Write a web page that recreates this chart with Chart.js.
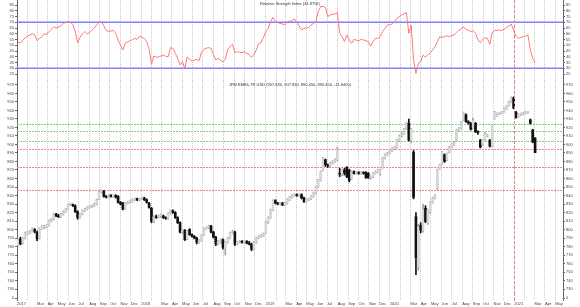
<!DOCTYPE html>
<html>
<head>
<meta charset="utf-8">
<script src="https://cdn.jsdelivr.net/npm/chart.js@4.4.1/dist/chart.umd.min.js"></script>
<style>
  html, body { margin: 0; padding: 0; background: #fff; }
  #wrap { position: relative; width: 580px; height: 307px; overflow: hidden; }
  canvas { position: absolute; left: 0; }
</style>
</head>
<body>
<div id="wrap">
  <canvas id="rsi" width="580" height="81" style="top:0px"></canvas>
  <canvas id="price" width="580" height="212" style="top:81px"></canvas>
  <canvas id="vol" width="580" height="8" style="top:293px"></canvas>
  <canvas id="dates" width="563" height="7" style="top:300px"></canvas>
</div>
<script>
// weekly candles, first one is the week of 2 Jan 2017 (plotted mid-week)
const X_START = '2017-01-01';
const X_END = '2021-05-24';
const FIRST_WEEK = '2017-01-04';
const MARKER_DATE = '2020-12-31';

const monthNames = ['Jan', 'Feb', 'Mar', 'Apr', 'May', 'Jun', 'Jul', 'Aug', 'Sep', 'Oct', 'Nov', 'Dec'];
const years = [2017, 2018, 2019, 2020, 2021];

const rsiTicks = [25, 30, 35, 40, 45, 50, 55, 60, 65, 70, 75, 80, 85];
const priceTicks = [730, 740, 750, 760, 770, 780, 790, 800, 810, 820, 830, 840, 850, 860, 870,
  880, 890, 900, 910, 920, 930, 940, 950, 960, 970];
const rsiBands = [70, 30];
const greenLevels = [924.5, 915.5, 904.5];
const redLevels = [894.5, 873, 847];

// [open, high, low, close]
const ohlc2017 = [
  [782,789,780,788],[789,791,782,783],[784,791,783,790],[790,797,789,796],[795,798,794,797],
  [796,799,795,798],[798,802,797,801],[800,801,796,798],[797,798,787,789],[790,802,789,801],
  [801,805,800,804],[803,805,801,803],[803,806,802,805],[805,811,804,810],[810,813,809,812],
  [812,819,811,818],[818,819,815,816],[816,818,814,815],[815,819,814,818],[818,822,817,821],
  [821,825,820,824],[824,830,823,829],[829,831,828,830],[829,830,827,828],[828,829,820,821],
  [821,822,812,814],[814,819,813,818],[818,823,817,822],[822,825,821,824],[824,827,823,826],
  [826,828,825,827],[827,829,826,828],[828,831,827,830],[830,836,829,835],[836,845,835,844],
  [844,847,843,846],[845,846,838,839],[839,840,837,838],[838,841,837,840],[840,841,838,839],
  [839,841,838,840],[840,841,837,838],[839,840,831,832],[832,833,829,830],[831,832,823,824],
  [825,832,824,831],[831,833,830,832],[832,834,831,833],[833,836,832,835],[835,837,834,836],
  [836,837,834,835],[835,837,834,836]
];
const ohlc2018 = [
  [836,838,835,837],[837,838,834,835],[835,836,831,832],[831,832,825,826],[825,826,808,810],
  [810,816,808,815],[815,817,813,814],[815,817,814,816],[816,818,814,816],[816,817,813,814],
  [814,815,812,813],[813,820,812,819],[819,823,818,822],[822,823,819,820],[820,821,813,814],
  [814,815,807,808],[808,809,796,797],[797,800,795,799],[799,800,787,788],[789,799,788,798],
  [800,801,793,794],[794,795,791,792],[792,793,789,790],[790,791,783,785],[785,788,784,787],
  [787,794,786,793],[794,802,793,801],[801,803,800,802],[802,805,801,804],[804,805,796,797],
  [797,798,790,791],[791,792,781,783],[783,787,782,786],[786,789,784,788],[788,789,777,779],
  [778,786,770,785],[785,791,784,790],[790,797,789,796],[796,799,795,797],[797,798,781,783],
  [783,786,782,785],[785,787,784,786],[786,787,784,785],[785,787,784,786],[786,787,783,784],
  [784,786,782,783],[783,784,775,777],[777,786,776,785],[785,791,784,790],[790,793,789,792],
  [792,794,791,793],[793,796,792,795]
];
const ohlc2019 = [
  [796,810,795,808],[808,815,807,814],[814,824,813,823],[823,835,822,834],[834,835,830,831],
  [831,832,829,830],[830,832,829,831],[831,832,828,829],[829,832,828,831],[831,836,830,835],
  [835,839,834,838],[838,841,837,840],[840,842,839,841],[841,842,839,840],[840,842,839,841],
  [841,842,836,837],[837,838,832,833],[833,836,832,835],[835,837,834,836],[836,840,835,839],
  [839,844,838,843],[843,851,842,850],[850,859,849,858],[858,869,857,868],[870,885,869,884],
  [882,883,874,876],[876,877,873,875],[875,879,874,878],[878,881,877,880],[880,883,879,882],
  [882,897,881,894],[866,872,862,865],[865,871,863,870],[870,872,864,866],[873,874,861,862],
  [870,871,856,858],[860,869,859,868],[868,869,865,866],[866,868,865,867],[867,868,865,866],
  [866,868,865,867],[867,868,865,866],[867,868,860,861],[866,867,860,861],[861,863,859,862],
  [862,867,861,866],[866,869,865,868],[868,871,867,870],[866,871,864,870],[873,885,872,884],
  [884,889,883,888],[888,891,887,890]
];
const ohlc2020 = [
  [890,894,889,893],[893,896,892,895],[895,898,894,897],[897,906,896,905],[905,911,904,910],
  [910,914,909,913],[913,919,912,918],[919,926,918,925],[925,930,904,905],[905,919,902,918],
  [891,893,836,838],[815,820,747,767],[756,806,752,803],[805,808,796,799],[799,830,797,823],
  [825,828,808,809],[808,824,806,823],[821,833,819,832],[832,838,831,837],[837,841,836,840],
  [849,871,847,870],[872,877,871,876],[878,892,877,891],[888,889,879,880],[882,890,881,889],
  [891,898,890,897],[897,901,896,900],[900,903,899,901],[905,918,904,917],[917,920,916,919],
  [919,927,918,926],[929,938,928,937],[935,936,926,927],[927,928,924,925],[925,926,917,918],
  [920,931,919,928],[925,926,914,915],[915,916,912,914],[905,906,896,897],[900,906,899,905],
  [905,914,904,912],[910,912,909,911],[905,906,897,898],[898,924,897,923],[931,939,930,938],
  [934,937,933,936],[936,938,935,937],[937,939,936,938],[939,943,938,942],[942,946,941,945],
  [946,951,945,950],[950,956,949,955]
];
// from the week of 28 Dec 2020
const ohlc2021 = [
  [955,956,942,943],[938,939,931,932],[933,936,932,935],[935,937,934,936],[936,938,935,937],
  [937,939,936,938],[938,939,937,938],[929,930,924,925],[917,918,902,903],[907.83,907.83,890.45,890.45]
];

const rsi2017 = [53, 52, 54.6, 56.5, 58, 59, 60, 59, 54, 56,
  57.5, 60, 59.5, 62, 64, 66, 65, 66, 67, 69,
  70, 70.5, 70, 68, 62, 52.3, 57, 60, 62, 60,
  61, 63, 65, 67.7, 70, 70.5, 67, 63, 62, 62.5,
  63, 60.4, 54.6, 50, 46, 51.7, 53, 54, 55, 56,
  55, 58];
const rsi2018 = [57, 56, 53, 47, 33.5, 40.7, 39.6, 40, 40.7, 41.6,
  40.5, 40, 48, 47.4, 43, 38.7, 33, 35.8, 30, 40,
  37.8, 36.4, 37, 37.8, 36.7, 44, 46.5, 47.5, 48, 47.4,
  42, 37.2, 38.7, 37, 35.8, 37.8, 46, 49, 51, 43.6,
  44.5, 44, 43.6, 44.5, 43, 42, 39.6, 42, 46, 51.7,
  52.3, 57];
const rsi2019 = [62, 64.8, 70.5, 74.3, 71, 69.7, 69, 68.5, 67.7, 70.5,
  71, 71.4, 72.9, 70, 66.8, 63.3, 64.8, 65, 65.6, 67.7,
  69, 70.5, 79.3, 83.6, 84, 83, 75, 76.4, 77, 77.2,
  78.4, 60.4, 57.5, 53.2, 59, 55, 51.7, 55.2, 54.5, 54,
  55.2, 54.6, 54, 53.2, 49.4, 53.2, 56, 56, 57.5, 62,
  64.8, 67.7];
const rsi2020 = [68, 68.5, 70.5, 73.5, 75, 76.4, 77.5, 78.4, 60.4, 67.7,
  37.2, 25.6, 34.3, 35.8, 41.6, 39.6, 42, 43.5, 46, 49,
  53.2, 57.5, 57, 57.5, 58.4, 57.5, 58.5, 59, 61, 63,
  64.5, 66, 64, 63, 62, 62.8, 60.4, 55, 52.3, 55.2,
  56.5, 56, 51, 61, 62.8, 63, 63.3, 62.8, 64, 65.5,
  66.8, 68.5];
const rsi2021 = [63, 58, 56, 57, 57.5, 58, 59, 46, 38.7, 34.88];

const ohlc = [...ohlc2017, ...ohlc2018, ...ohlc2019, ...ohlc2020, ...ohlc2021];
const rsi = [...rsi2017, ...rsi2018, ...rsi2019, ...rsi2020, ...rsi2021];

const DAY = 864e5;
const t0 = Date.parse(X_START);
const dayOf = s => (Date.parse(s) - t0) / DAY;
const X_MIN = 0;
const X_MAX = dayOf(X_END);
const weekX = i => dayOf(FIRST_WEEK) + 7 * i;

const months = [];
years.forEach(y => monthNames.forEach((name, m) => {
  const d = (Date.UTC(y, m, 1) - t0) / DAY;
  if (d <= X_MAX) months.push({ value: d, label: m === 0 ? String(y) : (m === 1 ? '' : name) });
}));

Chart.defaults.font.family = '"Liberation Sans", Arial, sans-serif';
Chart.defaults.font.size = 4;
Chart.defaults.color = '#444';

const AXIS = '#666';
const UP_FILL = 'rgb(214,214,214)';
const UP_EDGE = 'rgb(160,160,160)';
const DOWN_FILL = '#111';

function xAxis(withBorder) {
  return {
    type: 'linear', min: X_MIN, max: X_MAX, offset: false,
    afterBuildTicks: s => { s.ticks = months.map(m => ({ value: m.value })); },
    afterFit: s => { s.height = 0; s.paddingLeft = 0; s.paddingRight = 0; },
    grid: { color: '#c8c8c8', lineWidth: 1, drawTicks: false, offset: false },
    border: { display: withBorder, color: AXIS, width: 1, dash: [1, 1] },
    ticks: { display: false, autoSkip: false },
  };
}

function yAxes(min, max, ticks) {
  const side = pos => ({
    position: pos, min, max,
    afterBuildTicks: s => { s.ticks = ticks.map(v => ({ value: v })); },
    afterFit: s => { s.width = 17; s.paddingTop = 0; s.paddingBottom = 0; },
    grid: { drawOnChartArea: false, drawTicks: true, tickLength: 2, tickColor: AXIS },
    border: { color: AXIS, width: 1 },
    ticks: { autoSkip: false, padding: 1, callback: v => String(v) },
  });
  return { y: side('left'), y2: side('right') };
}

const titlePlugin = {
  id: 'panelTitle',
  afterDraw(chart, args, opts) {
    if (!opts.text) return;
    const { ctx, chartArea } = chart;
    ctx.save();
    ctx.font = '4px "Liberation Sans", Arial, sans-serif';
    ctx.fillStyle = '#333';
    ctx.textAlign = 'center';
    ctx.textBaseline = 'top';
    ctx.fillText(opts.text, (chartArea.left + chartArea.right) / 2, chartArea.top + opts.dy);
    ctx.restore();
  }
};

// dotted horizontal levels, placed with the y scale
const levelPlugin = {
  id: 'levels',
  beforeDatasetsDraw(chart, args, opts) {
    if (!opts.sets) return;
    const { ctx, chartArea, scales } = chart;
    ctx.save();
    ctx.lineWidth = 1;
    ctx.setLineDash([2, 1]);
    opts.sets.forEach(set => {
      ctx.strokeStyle = set.color;
      set.values.forEach(v => {
        const y = Math.round(scales.y.getPixelForValue(v)) + 0.5;
        ctx.beginPath();
        ctx.moveTo(chartArea.left, y);
        ctx.lineTo(chartArea.right, y);
        ctx.stroke();
      });
    });
    ctx.restore();
  }
};

const markerPlugin = {
  id: 'marker',
  afterDatasetsDraw(chart) {
    const x = Math.round(chart.scales.x.getPixelForValue(dayOf(MARKER_DATE))) + 0.5;
    const { ctx, chartArea } = chart;
    ctx.save();
    ctx.strokeStyle = 'rgb(240,125,125)';
    ctx.lineWidth = 1;
    ctx.setLineDash([3, 2]);
    ctx.beginPath();
    ctx.moveTo(x, chartArea.top);
    ctx.lineTo(x, chartArea.bottom);
    ctx.stroke();
    ctx.restore();
  }
};

const baseOptions = {
  responsive: false, animation: false, events: [],
  layout: { padding: 0 },
};

// RSI panel
new Chart(document.getElementById('rsi'), {
  type: 'line',
  data: {
    datasets: [
      {
        data: rsi.map((v, i) => ({ x: weekX(i), y: v })),
        borderColor: 'rgb(255,120,120)', borderWidth: 1, pointRadius: 0, order: 1,
      },
      ...rsiBands.map(v => ({
        data: [{ x: X_MIN, y: v }, { x: X_MAX, y: v }],
        borderColor: 'rgb(128,128,255)', borderWidth: 1.5, pointRadius: 0, order: 2,
      })),
    ],
  },
  options: {
    ...baseOptions,
    plugins: {
      legend: { display: false }, tooltip: { enabled: false },
      panelTitle: { text: 'Relative Strength Index (34.8756)', dy: 2 },
    },
    scales: { x: xAxis(true), ...yAxes(19, 89.4, rsiTicks) },
  },
  plugins: [titlePlugin, markerPlugin],
});

// price panel
new Chart(document.getElementById('price'), {
  type: 'bar',
  data: {
    datasets: [
      {
        data: ohlc.map((r, i) => ({ x: weekX(i), y: [r[0], r[3]] })),
        backgroundColor: ohlc.map(r => (r[3] >= r[0] ? UP_FILL : DOWN_FILL)),
        barThickness: 2, grouped: false, minBarLength: 1, borderWidth: 0, order: 1,
      },
      {
        data: ohlc.map((r, i) => ({ x: weekX(i), y: [r[2], r[1]] })),
        backgroundColor: ohlc.map(r => (r[3] >= r[0] ? UP_EDGE : DOWN_FILL)),
        barThickness: 1, grouped: false, minBarLength: 1, borderWidth: 0, order: 2,
      },
    ],
  },
  options: {
    ...baseOptions,
    plugins: {
      legend: { display: false }, tooltip: { enabled: false },
      panelTitle: { text: 'JPM EMBI+TR USD (907.830, 907.830, 890.450, 890.450, -11.8400)', dy: 2 },
      levels: {
        sets: [
          { values: greenLevels, color: 'rgb(130,210,130)' },
          { values: redLevels, color: 'rgb(245,130,130)' },
        ],
      },
    },
    scales: { x: xAxis(true), ...yAxes(725.3, 974.7, priceTicks) },
  },
  plugins: [titlePlugin, levelPlugin, markerPlugin],
});

// empty volume strip
new Chart(document.getElementById('vol'), {
  type: 'line',
  data: { datasets: [] },
  options: {
    ...baseOptions,
    plugins: { legend: { display: false }, tooltip: { enabled: false } },
    scales: { x: xAxis(true), ...yAxes(-0.5, 1, [0]) },
  },
  plugins: [markerPlugin],
});

// month labels
new Chart(document.getElementById('dates'), {
  type: 'line',
  data: { datasets: [] },
  options: {
    ...baseOptions,
    layout: { padding: { left: 17 } },
    plugins: { legend: { display: false }, tooltip: { enabled: false } },
    scales: {
      x: {
        type: 'linear', min: X_MIN, max: X_MAX, offset: false, position: 'top',
        afterBuildTicks: s => { s.ticks = months.map(m => ({ value: m.value })); },
        afterFit: s => { s.height = 6; s.paddingLeft = 0; s.paddingRight = 0; },
        grid: { display: false, drawTicks: false },
        border: { display: false },
        ticks: {
          autoSkip: false, maxRotation: 0, align: 'start', padding: 0,
          callback: (v, i) => months[i].label,
        },
      },
      y: { display: false },
    },
  },
});
</script>
</body>
</html>
